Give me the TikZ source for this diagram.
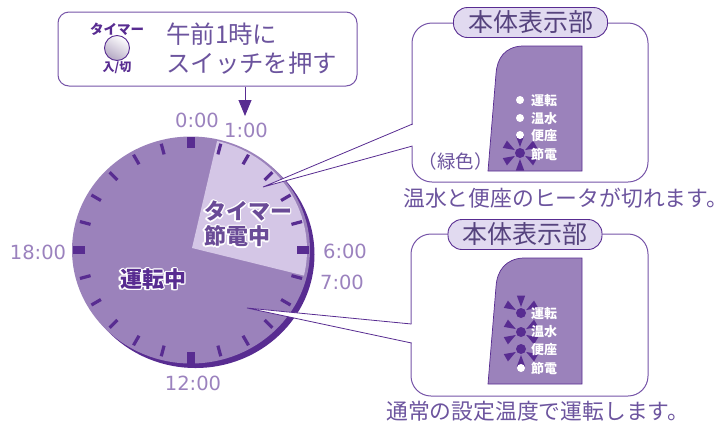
\documentclass[tikz,border=0pt]{standalone}
\usepackage{fontspec}
\usepackage{contour}
\setmainfont{Noto Sans CJK JP}
\newfontfamily\clockfont{DejaVu Sans}
\usetikzlibrary{arrows.meta}
\definecolor{dialmid}{RGB}{155,130,187}
\definecolor{dialdark}{RGB}{88,44,145}
\definecolor{diallight}{RGB}{212,198,230}
\definecolor{pillfill}{RGB}{225,218,240}
\definecolor{linevio}{RGB}{118,84,168}
\definecolor{textvio}{RGB}{108,84,158}
\definecolor{hourvio}{RGB}{155,130,190}
\contourlength{1.1pt}
\tikzset{
  calloutbox/.style={draw=linevio,line width=1pt,rounded corners=20pt,fill=white,inner sep=0pt},
  titlepill/.style={draw=dialdark,line width=0.9pt,fill=pillfill,rounded corners=14pt,inner sep=0pt,minimum height=30pt,minimum width=154pt,text=textvio!80!black,font=\fontsize{25}{25}\selectfont},
  hourlabel/.style={text=hourvio,inner sep=0pt,font=\clockfont\fontsize{19.5}{19.5}\selectfont},
  captiontext/.style={text=textvio,inner sep=0pt,anchor=west,font=\fontsize{21.8}{21.8}\selectfont},
  dialtext/.style={inner sep=0pt,font=\bfseries\fontsize{22}{22}\selectfont},
  panelshape/.style={fill=dialmid,draw=dialdark,line width=0.7pt},
  ledon/.style={circle,fill=dialdark,inner sep=0pt,minimum size=10pt},
  ledoff/.style={circle,fill=white,inner sep=0pt,minimum size=8pt},
  ledtext/.style={text=white,inner sep=0pt,font=\bfseries\fontsize{13}{13}\selectfont},
  wedgeline/.style={draw=dialdark,line width=0.8pt}
}
\newcommand{\ledrays}[3]{%
  \foreach \a in {#3} {
    \begin{scope}[shift={(#1,#2)},rotate=\a]
      \fill[dialdark] (6,0) -- (17.5,4.2) -- (17.5,-4.2) -- cycle;
    \end{scope}
  }
}
\begin{document}
\begin{tikzpicture}[x=1pt,y=1pt,yscale=-1,xscale=1]
	\useasboundingbox (0,0) rectangle (727,421);

	% Dial
	\fill[dialdark] (195.5,254.5) ellipse [x radius=119,y radius=113.5];
	\fill[dialmid] (191,250) ellipse [x radius=119,y radius=113.5];
	\begin{scope}
		\clip (190.5,250) ellipse [x radius=116.5,y radius=112];
		\fill[diallight] (192,248) -- (222,120) -- (330,120) -- (330,282) -- cycle;
	\end{scope}
	\foreach \h in {0,...,23} {
		\pgfmathtruncatemacro{\major}{mod(\h,6)==0}
		\ifnum\major=1
			\draw[dialdark,line width=8.5pt] ({191+106*sin(15*\h)},{250-102*cos(15*\h)}) -- ({191+118*sin(15*\h)},{250-113.5*cos(15*\h)});
		\else
			\draw[dialdark,line width=3.2pt] ({191+104*sin(15*\h)},{250-99*cos(15*\h)}) -- ({191+115*sin(15*\h)},{250-110*cos(15*\h)});
		\fi
	}

	% Wedges
	\coordinate (tipa) at (263,187);
	\coordinate (wedgeaup) at (412.5,124);
	\coordinate (wedgealo) at (412.5,146);
	\coordinate (tipb) at (247,308);
	\coordinate (wedgebup) at (411.5,324);
	\coordinate (wedgeblo) at (411.5,343);

	% Boxes
	\node[calloutbox,minimum width=236pt,minimum height=159pt] (boxa) at (530,102.5) {};
	\node[calloutbox,minimum width=237pt,minimum height=162pt] (boxb) at (529.5,315) {};
	\fill[white] ([xshift=2pt]wedgeaup) -- (tipa) -- ([xshift=2pt]wedgealo) -- cycle;
	\draw[wedgeline] (wedgeaup) -- (tipa) -- (wedgealo);
	\fill[white] ([xshift=2pt]wedgebup) -- (tipb) -- ([xshift=2pt]wedgeblo) -- cycle;
	\draw[wedgeline] (wedgebup) -- (tipb) -- (wedgeblo);

	\node[titlepill] (titlea) at (530.5,22.5) {本体表示部};
	\node[titlepill] (titleb) at (525,234.5) {本体表示部};

	% Panel one
	\draw[panelshape] (488,171) -- (582,171) -- (582,46) -- (522,46) .. controls (505,47) and (497,58) .. (496,74) -- cycle;
	\ledrays{520}{153}{270,210,330,150,30,90}
	\node[ledoff] (ledaa) at (520,100) {};
	\node[ledoff] (ledab) at (520,118) {};
	\node[ledoff] (ledac) at (520,135) {};
	\node[ledon] (ledad) at (520,153) {};
	\node[ledtext] (textaa) at (544,101) {運転};
	\node[ledtext] (textab) at (544,119) {温水};
	\node[ledtext] (textac) at (544,136) {便座};
	\node[ledtext] (textad) at (544,154) {節電};
	\node[inner sep=0pt,text=textvio,font=\fontsize{18.5}{18.5}\selectfont] (green) at (455.5,161) {（緑色）};

	% Panel two
	\draw[panelshape] (488,384) -- (582,384) -- (582,258) -- (523,258) .. controls (506,259) and (497,270) .. (496,287) -- cycle;
	\ledrays{521}{313}{270,210,330}
	\ledrays{521}{332}{210,330,150,30}
	\ledrays{521}{349}{150,30,90}
	\node[ledon] (ledba) at (521,313) {};
	\node[ledon] (ledbb) at (521,332) {};
	\node[ledon] (ledbc) at (521,349) {};
	\node[ledoff] (ledbd) at (521,368) {};
	\node[ledtext] (textba) at (544,314) {運転};
	\node[ledtext] (textbb) at (544,332) {温水};
	\node[ledtext] (textbc) at (544,350) {便座};
	\node[ledtext] (textbd) at (544,368) {節電};

	% Captions
	\node[captiontext] (captiona) at (403,198) {温水と便座のヒータが切れます。};
	\node[captiontext] (captionb) at (386,411.5) {通常の設定温度で運転します。};

	% Timer box
	\node[calloutbox,rounded corners=11pt,minimum width=299pt,minimum height=74pt] (timerbox) at (207.5,49) {};
	\node[inner sep=0pt,text=dialdark,font=\bfseries\fontsize{13.5}{13.5}\selectfont] (timerlabel) at (117,29) {タイマー};
	\node[circle,draw=dialdark,line width=0.9pt,minimum size=25pt,inner sep=0pt,top color=white,bottom color=diallight!85!black,shading angle=-30] (timerbutton) at (117,48) {};
	\node[inner sep=0pt,text=dialdark,font=\bfseries\fontsize{12}{12}\selectfont] (timeroff) at (117,68) {入/切};
	\node[anchor=west,align=left,inner sep=0pt,text=textvio,font=\fontsize{24.4}{29}\selectfont] (timertext) at (166,48.5) {午前1時に\\スイッチを押す};
	\coordinate (arrowend) at (245,116);
	\draw[dialdark,line width=0.9pt,-{Triangle[length=16pt,width=13pt]}] (timerbox.south -| arrowend) -- (arrowend);

	% Hour labels
	\node[hourlabel] (hourzero) at (197,120) {0:00};
	\node[hourlabel] (hourone) at (246,130) {1:00};
	\node[hourlabel] (hoursix) at (345,251) {6:00};
	\node[hourlabel] (hourseven) at (342,282) {7:00};
	\node[hourlabel] (hourtwelve) at (193,383) {12:00};
	\node[hourlabel] (houreighteen) at (38,252) {18:00};

	% Dial labels
	\node[dialtext,text=linevio!90!black] (timertag) at (248,212) {\contour{white}{タイマー}};
	\node[dialtext,text=linevio!90!black] (savetag) at (237,237) {\contour{white}{節電中}};
	\node[dialtext,text=dialdark] (runtag) at (153,280) {\contour{white}{運転中}};
\end{tikzpicture}
\end{document}
